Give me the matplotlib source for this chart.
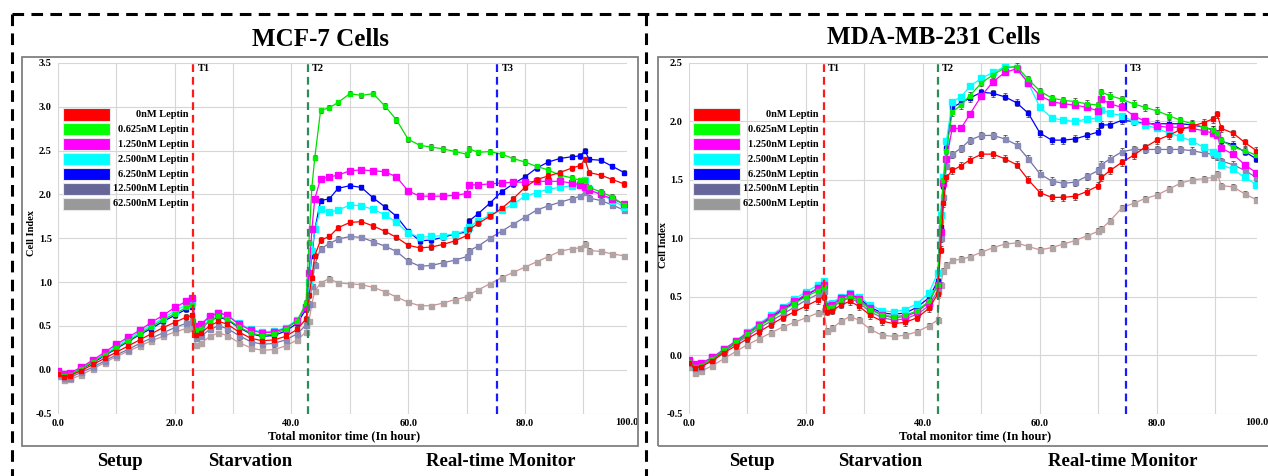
import numpy as np
import matplotlib
matplotlib.use("Agg")
from matplotlib import pyplot as plt
from matplotlib.patches import Rectangle
from matplotlib.lines import Line2D

plt.rcParams['font.family'] = ['Liberation Serif', 'DejaVu Serif']
plt.rcParams['font.weight'] = 'bold'

W, H = 1268, 476

# sampling times (h), same for both cell lines
hours = [0, 1, 2, 4, 6, 8, 10, 12, 14, 16, 18, 20, 22, 23,
         23.6, 24.5, 26, 27.5, 29, 31, 33, 35, 37, 39, 41, 42.5,
         43, 43.5, 44, 45, 46.5, 48, 50, 52, 54, 56, 58, 60, 62, 64, 66, 68, 70, 70.5,
         72, 74, 76, 78, 80, 82, 84, 86, 88, 89.5, 90.3, 91, 93, 95, 97]

labels = ['0nM Leptin', '0.625nM Leptin', '1.250nM Leptin', '2.500nM Leptin',
          '6.250nM Leptin', '12.500nM Leptin', '62.500nM Leptin']

# MCF-7 cell index
mcf7_0 = [-0.05, -0.08, -0.07, -0.01, 0.06, 0.13, 0.20, 0.27, 0.34, 0.41, 0.48, 0.54, 0.60, 0.62,
          0.40, 0.42, 0.50, 0.55, 0.52, 0.43, 0.36, 0.33, 0.34, 0.38, 0.46, 0.58,
          0.85, 1.05, 1.30, 1.48, 1.52, 1.62, 1.68, 1.69, 1.64, 1.58, 1.51, 1.42, 1.39, 1.40, 1.43, 1.47, 1.53, 1.60,
          1.67, 1.75, 1.84, 1.95, 2.08, 2.17, 2.21, 2.25, 2.30, 2.33, 2.40, 2.25, 2.22, 2.17, 2.12]
mcf7_0625 = [-0.04, -0.07, -0.06, 0.01, 0.09, 0.17, 0.25, 0.33, 0.41, 0.49, 0.57, 0.64, 0.71, 0.74,
             0.45, 0.47, 0.56, 0.61, 0.58, 0.49, 0.42, 0.39, 0.41, 0.46, 0.56, 0.76,
             1.45, 2.08, 2.42, 2.96, 2.99, 3.05, 3.15, 3.13, 3.15, 3.01, 2.85, 2.63, 2.56, 2.54, 2.52, 2.49, 2.46, 2.52,
             2.48, 2.49, 2.46, 2.41, 2.37, 2.32, 2.28, 2.22, 2.19, 2.16, 2.17, 2.08, 2.03, 1.97, 1.88]
mcf7_125 = [-0.02, -0.05, -0.04, 0.03, 0.11, 0.20, 0.29, 0.37, 0.45, 0.54, 0.62, 0.71, 0.78, 0.82,
            0.50, 0.52, 0.61, 0.65, 0.62, 0.52, 0.45, 0.42, 0.43, 0.47, 0.56, 0.72,
            1.10, 1.60, 1.95, 2.18, 2.20, 2.22, 2.27, 2.28, 2.27, 2.26, 2.20, 2.04, 1.98, 1.98, 1.98, 1.99, 2.01, 2.11,
            2.11, 2.12, 2.13, 2.14, 2.14, 2.15, 2.15, 2.15, 2.13, 2.11, 2.09, 2.05, 2.00, 1.95, 1.89]
mcf7_25 = [-0.03, -0.06, -0.05, 0.02, 0.10, 0.18, 0.27, 0.35, 0.43, 0.51, 0.59, 0.67, 0.74, 0.77,
           0.48, 0.50, 0.60, 0.65, 0.62, 0.53, 0.46, 0.43, 0.44, 0.48, 0.57, 0.71,
           1.00, 1.35, 1.60, 1.83, 1.80, 1.82, 1.88, 1.87, 1.83, 1.77, 1.68, 1.56, 1.51, 1.52, 1.53, 1.55, 1.59, 1.63,
           1.70, 1.76, 1.82, 1.89, 1.98, 2.02, 2.06, 2.08, 2.10, 2.12, 2.17, 2.06, 2.00, 1.93, 1.86]
mcf7_625 = [-0.04, -0.07, -0.06, 0.01, 0.08, 0.16, 0.24, 0.32, 0.40, 0.47, 0.55, 0.62, 0.69, 0.72,
            0.45, 0.47, 0.56, 0.60, 0.57, 0.48, 0.41, 0.38, 0.39, 0.44, 0.53, 0.69,
            1.00, 1.30, 1.60, 1.93, 1.95, 2.07, 2.10, 2.08, 1.96, 1.86, 1.75, 1.58, 1.47, 1.48, 1.51, 1.55, 1.57, 1.70,
            1.78, 1.90, 2.03, 2.12, 2.20, 2.30, 2.37, 2.41, 2.43, 2.44, 2.50, 2.40, 2.39, 2.32, 2.25]
mcf7_1250 = [-0.06, -0.10, -0.09, -0.03, 0.03, 0.10, 0.17, 0.23, 0.30, 0.36, 0.42, 0.48, 0.53, 0.55,
             0.36, 0.38, 0.46, 0.50, 0.47, 0.39, 0.32, 0.29, 0.30, 0.34, 0.41, 0.51,
             0.75, 0.95, 1.20, 1.38, 1.44, 1.49, 1.52, 1.51, 1.46, 1.41, 1.35, 1.24, 1.18, 1.19, 1.22, 1.25, 1.29, 1.36,
             1.41, 1.50, 1.58, 1.66, 1.74, 1.82, 1.87, 1.91, 1.95, 1.98, 2.03, 1.96, 1.93, 1.88, 1.82]
mcf7_6250 = [-0.07, -0.12, -0.11, -0.06, 0.01, 0.08, 0.15, 0.21, 0.27, 0.33, 0.38, 0.43, 0.47, 0.48,
             0.28, 0.30, 0.38, 0.42, 0.39, 0.31, 0.25, 0.22, 0.23, 0.27, 0.34, 0.43,
             0.55, 0.75, 0.90, 0.99, 1.04, 0.99, 0.98, 0.97, 0.94, 0.89, 0.83, 0.77, 0.73, 0.73, 0.76, 0.80, 0.83, 0.86,
             0.91, 0.98, 1.05, 1.11, 1.17, 1.23, 1.29, 1.35, 1.38, 1.39, 1.44, 1.36, 1.35, 1.32, 1.30]

# MDA-MB-231 cell index
mda_0 = [-0.07, -0.11, -0.10, -0.05, 0.02, 0.08, 0.14, 0.20, 0.26, 0.32, 0.37, 0.42, 0.47, 0.50,
         0.37, 0.38, 0.43, 0.46, 0.42, 0.34, 0.29, 0.27, 0.28, 0.32, 0.40, 0.52,
         0.90, 1.30, 1.52, 1.58, 1.62, 1.67, 1.72, 1.72, 1.68, 1.63, 1.50, 1.39, 1.35, 1.35, 1.36, 1.40, 1.45, 1.52,
         1.58, 1.65, 1.71, 1.78, 1.84, 1.88, 1.93, 1.96, 1.99, 2.02, 2.06, 1.94, 1.90, 1.82, 1.75]
mda_0625 = [-0.06, -0.10, -0.09, -0.03, 0.04, 0.11, 0.18, 0.25, 0.31, 0.38, 0.44, 0.50, 0.55, 0.58,
            0.40, 0.41, 0.47, 0.50, 0.47, 0.39, 0.34, 0.33, 0.34, 0.38, 0.46, 0.60,
            1.15, 1.50, 1.75, 2.08, 2.14, 2.22, 2.33, 2.40, 2.46, 2.47, 2.36, 2.26, 2.20, 2.18, 2.17, 2.15, 2.14, 2.25,
            2.22, 2.19, 2.15, 2.12, 2.09, 2.05, 2.01, 1.98, 1.95, 1.93, 1.90, 1.84, 1.78, 1.75, 1.71]
mda_125 = [-0.04, -0.08, -0.07, -0.02, 0.05, 0.12, 0.19, 0.26, 0.33, 0.40, 0.46, 0.52, 0.57, 0.60,
           0.42, 0.43, 0.49, 0.52, 0.48, 0.40, 0.34, 0.32, 0.33, 0.37, 0.45, 0.60,
           1.05, 1.47, 1.68, 1.94, 1.94, 2.06, 2.22, 2.34, 2.42, 2.45, 2.33, 2.22, 2.17, 2.15, 2.14, 2.12, 2.09, 2.19,
           2.15, 2.12, 2.05, 2.00, 1.96, 1.95, 1.95, 1.94, 1.92, 1.90, 1.88, 1.77, 1.72, 1.63, 1.56]
mda_25 = [-0.05, -0.09, -0.08, -0.02, 0.05, 0.12, 0.20, 0.27, 0.34, 0.41, 0.48, 0.54, 0.60, 0.63,
          0.44, 0.45, 0.50, 0.53, 0.50, 0.43, 0.38, 0.37, 0.39, 0.44, 0.53, 0.70,
          1.20, 1.52, 1.83, 2.17, 2.21, 2.30, 2.37, 2.42, 2.47, 2.46, 2.33, 2.12, 2.03, 2.01, 2.00, 2.02, 2.03, 2.10,
          2.07, 2.05, 2.00, 1.97, 1.94, 1.90, 1.87, 1.83, 1.78, 1.74, 1.72, 1.63, 1.59, 1.52, 1.46]
mda_625 = [-0.05, -0.09, -0.08, -0.03, 0.04, 0.11, 0.18, 0.25, 0.32, 0.39, 0.45, 0.51, 0.57, 0.60,
           0.42, 0.43, 0.49, 0.52, 0.49, 0.41, 0.36, 0.35, 0.36, 0.41, 0.49, 0.63,
           1.10, 1.45, 1.77, 2.12, 2.16, 2.20, 2.25, 2.24, 2.21, 2.16, 2.07, 1.90, 1.84, 1.84, 1.85, 1.88, 1.91, 1.97,
           1.97, 2.01, 2.00, 1.98, 1.98, 1.98, 1.98, 1.97, 1.95, 1.93, 1.90, 1.83, 1.80, 1.74, 1.68]
mda_1250 = [-0.07, -0.11, -0.10, -0.04, 0.03, 0.10, 0.16, 0.23, 0.29, 0.35, 0.41, 0.47, 0.52, 0.55,
            0.40, 0.41, 0.46, 0.49, 0.45, 0.37, 0.32, 0.30, 0.31, 0.35, 0.42, 0.55,
            1.00, 1.35, 1.62, 1.72, 1.77, 1.84, 1.88, 1.88, 1.85, 1.80, 1.68, 1.55, 1.49, 1.47, 1.48, 1.53, 1.58, 1.63,
            1.68, 1.74, 1.76, 1.76, 1.76, 1.76, 1.76, 1.75, 1.73, 1.72, 1.70, 1.66, 1.63, 1.58, 1.52]
mda_6250 = [-0.10, -0.15, -0.14, -0.09, -0.03, 0.03, 0.09, 0.14, 0.19, 0.24, 0.28, 0.32, 0.36, 0.38,
            0.21, 0.23, 0.29, 0.33, 0.30, 0.22, 0.17, 0.16, 0.17, 0.20, 0.25, 0.30,
            0.60, 0.72, 0.77, 0.81, 0.82, 0.84, 0.88, 0.92, 0.95, 0.96, 0.93, 0.90, 0.92, 0.95, 0.98, 1.02, 1.06, 1.08,
            1.15, 1.26, 1.30, 1.34, 1.37, 1.42, 1.47, 1.50, 1.51, 1.52, 1.55, 1.45, 1.44, 1.38, 1.33]

mcf7_err = [0.03, 0.03, 0.02, 0.02, 0.03, 0.03, 0.025]
mda_err = [0.03, 0.03, 0.025, 0.025, 0.03, 0.03, 0.025]

# T1/T2/T3 event times
mcf7_events = [23.2, 42.85, 75.3]
mda_events = [23.1, 42.6, 74.7]

line_colors = ['#ff0000', '#00dd00', '#ff00ff', '#00ffff', '#0000ff', '#7272aa', '#d49090']
face_colors = ['#ff0000', '#00ee00', '#ff00ff', '#00ffff', '#0000ff', '#8a8ab8', '#b0a4a4']
marker_sizes = [2.6, 2.6, 4.4, 4.4, 2.8, 3.6, 3.6]
patch_colors = ['#ff0000', '#00ff00', '#ff00ff', '#00ffff', '#0000ff', '#666699', '#999999']
event_colors = ['#ff1a1a', '#2e8b57', '#1a1aff']


def fx(x):
    return x / W


def fy(y):
    return 1 - y / H


fig = plt.figure(figsize=(W / 100, H / 100), dpi=100)


def panel(x0, x1, xmax, ymax, series, errs, events):
    ax = fig.add_axes([fx(x0), fy(413.5), fx(x1) - fx(x0), fy(63) - fy(413.5)])
    order = list(range(len(series)))[::-1]
    for i in order:
        ax.errorbar(hours, series[i], yerr=errs[i], color=line_colors[i], lw=0.9,
                    marker='s', ms=marker_sizes[i], mfc=face_colors[i], mec=face_colors[i],
                    ecolor='#303030', elinewidth=0.5, capsize=1.5, capthick=0.5, zorder=3)
    ax.set_xlim(0, xmax)
    ax.set_ylim(-0.5, ymax)
    xt = np.arange(0, 100, 10)
    ax.set_xticks(xt)
    ax.set_xticklabels(['%.1f' % v if v % 20 == 0 else '' for v in xt])
    yt = np.arange(-0.5, ymax + 0.01, 0.5)
    ax.set_yticks(yt)
    ax.set_yticklabels(['%.1f' % v for v in yt])
    ax.tick_params(length=0, labelsize=7.5, pad=4)
    ax.tick_params(axis='y', pad=4.5)
    ax.grid(color='#d6d6d6', lw=0.8)
    ax.set_axisbelow(True)
    for s in ax.spines.values():
        s.set_visible(False)
    ax.text(1.0, -0.012, '100.0', transform=ax.transAxes, ha='center', va='top', fontsize=7.5)
    for t, c, name in zip(events, event_colors, ['T1', 'T2', 'T3']):
        ax.axvline(t, color=c, lw=1.6, linestyle=(0, (3.5, 2.2)), zorder=4)
        ax.text(t + 0.7, ymax - 0.01, name, fontsize=7.5, ha='left', va='top')
    return ax


ax1 = panel(58, 627, 97.5, 3.5,
            [mcf7_0, mcf7_0625, mcf7_125, mcf7_25, mcf7_625, mcf7_1250, mcf7_6250],
            mcf7_err, mcf7_events)
ax2 = panel(689, 1257, 97.1, 2.5,
            [mda_0, mda_0625, mda_125, mda_25, mda_625, mda_1250, mda_6250],
            mda_err, mda_events)

# legends (patch + right-aligned label)
for lx in [63, 693]:
    for i, lab in enumerate(labels):
        cy = 114.5 + 14.9 * i
        fig.patches.append(Rectangle((fx(lx), fy(cy + 6)), fx(47), fy(cy - 6) - fy(cy + 6),
                                     transform=fig.transFigure, fc=patch_colors[i],
                                     ec='#e8e8e8', lw=0.8, zorder=5))
        fig.text(fx(lx + 126), fy(cy), lab, ha='right', va='center', fontsize=7.5, zorder=5)

# panel frames
fig.patches.append(Rectangle((fx(22), fy(446)), fx(616), fy(57) - fy(446), transform=fig.transFigure,
                             fill=False, ec='#808080', lw=1.3))
fig.patches.append(Rectangle((fx(658), fy(446)), fx(640), fy(57) - fy(446), transform=fig.transFigure,
                             fill=False, ec='#808080', lw=1.3))

# outer dashed boxes
dash = dict(transform=fig.transFigure, color='black', lw=2.2, linestyle=(0, (3.8, 2.4)))
fig.add_artist(Line2D([fx(12), 1.0], [fy(14), fy(14)], **dash))
fig.add_artist(Line2D([fx(12), fx(12)], [fy(14), 0], **dash))
fig.add_artist(Line2D([fx(646), fx(646)], [fy(14), 0], **dash))

# titles
fig.text(fx(320), fy(40), 'MCF-7 Cells', ha='center', va='center', fontsize=18)
fig.text(fx(934), fy(38), 'MDA-MB-231 Cells', ha='center', va='center', fontsize=18)

# axis labels
fig.text(fx(344), fy(436), 'Total monitor time (In hour)', ha='center', va='center', fontsize=9)
fig.text(fx(975), fy(436), 'Total monitor time (In hour)', ha='center', va='center', fontsize=9)
fig.text(fx(31), fy(233), 'Cell Index', ha='center', va='center', rotation=90, fontsize=7.5)
fig.text(fx(663), fy(245), 'Cell Index', ha='center', va='center', rotation=90, fontsize=7.5)

# phase labels
for x, s in [(120, 'Setup'), (250, 'Starvation'), (501, 'Real-time Monitor'),
             (752, 'Setup'), (880, 'Starvation'), (1123, 'Real-time Monitor')]:
    fig.text(fx(x), fy(462), s, ha='center', va='center', fontsize=13.5)

fig.savefig('out.png', dpi=100)
